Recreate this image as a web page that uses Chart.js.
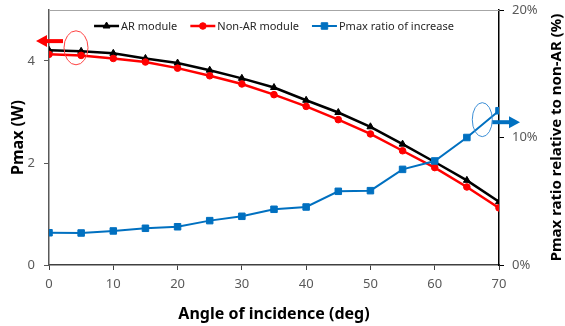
<!DOCTYPE html>
<html>
<head>
<meta charset="utf-8">
<script src="https://cdn.jsdelivr.net/npm/chart.js@4"></script>
<style>
  html, body { margin: 0; padding: 0; background: #fff; }
  #wrap { width: 565px; height: 326px; }
</style>
</head>
<body>
<div id="wrap"><canvas id="mycanvas"></canvas></div>
<script>
// values
var angles = [0, 5, 10, 15, 20, 25, 30, 35, 40, 45, 50, 55, 60, 65, 70];
var arModule = [4.21, 4.19, 4.15, 4.05, 3.96, 3.82, 3.66, 3.48, 3.23, 2.99, 2.71, 2.37, 2.02, 1.66, 1.24];
var nonArModule = [4.13, 4.11, 4.05, 3.98, 3.86, 3.71, 3.55, 3.34, 3.11, 2.85, 2.57, 2.24, 1.91, 1.53, 1.12];
var ratioIncrease = [2.53, 2.51, 2.67, 2.88, 3.0, 3.48, 3.82, 4.37, 4.55, 5.78, 5.83, 7.5, 8.16, 10.0, 12.1];
var seriesNames = ['AR module', 'Non-AR module', 'Pmax ratio of increase'];
var pmaxTicks = [0, 2, 4];
var ratioTicks = [0, 10, 20];
var angleTicks = [0, 10, 20, 30, 40, 50, 60, 70];

var tickFont = { family: "'Noto Sans', sans-serif", size: 13 };
var titleFont = { family: "'Noto Sans', sans-serif", size: 16, weight: 'bold' };

function toXY(ys) {
  return ys.map(function(v, i) { return { x: angles[i], y: v }; });
}

// legend inside plot, top border, right title, and the arrow/ellipse callouts
var extras = {
  id: 'extras',
  afterDraw: function(chart) {
    var ctx = chart.ctx;
    var a = chart.chartArea;
    var xs = chart.scales.x, ys = chart.scales.y, y1 = chart.scales.y1;
    ctx.save();

    // top frame line
    ctx.strokeStyle = '#a6a6a6';
    ctx.lineWidth = 1;
    ctx.beginPath();
    ctx.moveTo(a.left, a.top + 0.5);
    ctx.lineTo(a.right, a.top + 0.5);
    ctx.stroke();

    // legend
    ctx.font = "11px 'Noto Sans', sans-serif";
    ctx.textBaseline = 'middle';
    var lineLen = 25, gap = 2, itemGap = 13;
    var widths = chart.data.datasets.map(function(d) { return lineLen + gap + ctx.measureText(d.label).width; });
    var total = widths.reduce(function(s, w) { return s + w; }, 0) + itemGap * (widths.length - 1);
    var lx = (a.left + a.right) / 2 - total / 2;
    var ly = a.top + 16;
    chart.data.datasets.forEach(function(d, i) {
      ctx.strokeStyle = d.borderColor;
      ctx.lineWidth = d.borderWidth;
      ctx.beginPath();
      ctx.moveTo(lx, ly);
      ctx.lineTo(lx + lineLen, ly);
      ctx.stroke();
      ctx.fillStyle = d.pointBackgroundColor;
      ctx.strokeStyle = d.pointBorderColor;
      ctx.lineWidth = 1;
      ctx.beginPath();
      drawMarker(ctx, d.pointStyle, d.pointRadius, lx + lineLen / 2, ly);
      ctx.fillStyle = '#262626';
      ctx.textAlign = 'left';
      ctx.fillText(d.label, lx + lineLen + gap, ly + 1);
      lx += widths[i] + itemGap;
    });

    // right axis title, reading upward
    ctx.save();
    ctx.font = "bold 15px 'Noto Sans', sans-serif";
    ctx.fillStyle = '#000';
    ctx.textAlign = 'center';
    ctx.textBaseline = 'middle';
    ctx.translate(557, (a.top + a.bottom) / 2);
    ctx.rotate(-Math.PI / 2);
    ctx.fillText('Pmax ratio relative to non-AR (%)', 0, 0);
    ctx.restore();

    // red callout on the left
    var rx = xs.getPixelForValue(4.2), ry = ys.getPixelForValue(4.2);
    ctx.strokeStyle = '#ff4040';
    ctx.lineWidth = 1;
    ctx.beginPath();
    ctx.ellipse(rx, ry - 3, 12, 17, 0, 0, Math.PI * 2);
    ctx.stroke();
    var ay = ys.getPixelForValue(4.39);
    drawArrow(ctx, rx - 13, ay, a.left - 13, '#ff0000');

    // blue callout on the right
    var bx = xs.getPixelForValue(67.4), by = y1.getPixelForValue(11.4);
    ctx.strokeStyle = '#3d8fd6';
    ctx.lineWidth = 1;
    ctx.beginPath();
    ctx.ellipse(bx, by, 10, 17, 0, 0, Math.PI * 2);
    ctx.stroke();
    var by2 = y1.getPixelForValue(11.2);
    drawArrow(ctx, bx + 10, by2, a.right + 21, '#0070c0');

    ctx.restore();
  }
};

function drawMarker(ctx, style, r, x, y) {
  if (style === 'triangle') {
    ctx.moveTo(x, y - r);
    ctx.lineTo(x + r * 0.866, y + r * 0.5);
    ctx.lineTo(x - r * 0.866, y + r * 0.5);
    ctx.closePath();
  } else if (style === 'rect') {
    var s = r * Math.SQRT1_2;
    ctx.rect(x - s, y - s, 2 * s, 2 * s);
  } else {
    ctx.arc(x, y, r, 0, Math.PI * 2);
  }
  ctx.fill();
  ctx.stroke();
}

function drawArrow(ctx, x0, y, tip, color) {
  var dir = tip < x0 ? -1 : 1;
  var head = 11;
  ctx.strokeStyle = color;
  ctx.fillStyle = color;
  ctx.lineWidth = 4;
  ctx.beginPath();
  ctx.moveTo(x0, y);
  ctx.lineTo(tip - dir * head, y);
  ctx.stroke();
  ctx.beginPath();
  ctx.moveTo(tip, y);
  ctx.lineTo(tip - dir * head, y - 6);
  ctx.lineTo(tip - dir * head, y + 6);
  ctx.closePath();
  ctx.fill();
}

function noPad(s) {
  s.paddingTop = 0;
  s.paddingBottom = 0;
  s.paddingLeft = 0;
  s.paddingRight = 0;
}

var chartdata = {
  datasets: [
    {
      label: seriesNames[0],
      data: toXY(arModule),
      yAxisID: 'y',
      borderColor: '#000000',
      backgroundColor: '#000000',
      pointBackgroundColor: '#000000',
      pointBorderColor: '#000000',
      pointStyle: 'triangle',
      pointRadius: 4,
      pointBorderWidth: 1,
      borderWidth: 2.5,
      order: 2
    },
    {
      label: seriesNames[1],
      data: toXY(nonArModule),
      yAxisID: 'y',
      borderColor: '#ff0000',
      backgroundColor: '#ff0000',
      pointBackgroundColor: '#ff0000',
      pointBorderColor: '#ff0000',
      pointStyle: 'circle',
      pointRadius: 3.3,
      pointBorderWidth: 1,
      borderWidth: 2.5,
      order: 1
    },
    {
      label: seriesNames[2],
      data: toXY(ratioIncrease),
      yAxisID: 'y1',
      borderColor: '#0070c0',
      backgroundColor: '#0070c0',
      pointBackgroundColor: '#0070c0',
      pointBorderColor: '#0070c0',
      pointStyle: 'rect',
      pointRadius: 4.6,
      pointBorderWidth: 1,
      borderWidth: 2,
      order: 0
    }
  ]
};

var ctx = document.getElementById('mycanvas');

var lineGraph = new Chart(ctx, {
  type: 'line',
  data: chartdata,
  options: {
    responsive: true,
    maintainAspectRatio: false,
    animation: false,
    layout: { padding: { top: 10, left: 0, right: 0, bottom: 0 } },
    plugins: {
      legend: { display: false },
      tooltip: { enabled: false }
    },
    elements: { line: { tension: 0 } },
    scales: {
      x: {
        type: 'linear',
        min: 0,
        max: 70,
        afterBuildTicks: function(s) { s.ticks = angleTicks.map(function(v) { return { value: v }; }); },
        afterFit: function(s) { s.height = 61; noPad(s); },
        border: { color: '#404040', width: 1.5 },
        grid: { drawOnChartArea: false, tickLength: 5, color: '#404040' },
        ticks: { font: tickFont, color: '#595959', padding: 6, maxRotation: 0 },
        title: { display: true, text: 'Angle of incidence (deg)', font: titleFont, color: '#000', padding: { top: 0, bottom: 2 } }
      },
      y: {
        position: 'left',
        min: 0,
        max: 5,
        afterBuildTicks: function(s) { s.ticks = pmaxTicks.map(function(v) { return { value: v }; }); },
        afterFit: function(s) { s.width = 49; noPad(s); },
        border: { color: '#595959', width: 1.5 },
        grid: { drawOnChartArea: false, tickLength: 5, color: '#595959' },
        ticks: { font: tickFont, color: '#595959', padding: 9 },
        title: { display: true, text: 'Pmax (W)', font: titleFont, color: '#000', padding: { top: 9, bottom: 0 } }
      },
      y1: {
        position: 'right',
        min: 0,
        max: 20,
        afterBuildTicks: function(s) { s.ticks = ratioTicks.map(function(v) { return { value: v }; }); },
        afterFit: function(s) { s.width = 66; noPad(s); },
        border: { color: '#000000', width: 1.5 },
        grid: { drawOnChartArea: false, tickLength: 5, color: '#000000' },
        ticks: { font: tickFont, color: '#595959', padding: 8, callback: function(v) { return v + '%'; } },
        title: { display: false }
      }
    }
  },
  plugins: [extras]
});
</script>
</body>
</html>
